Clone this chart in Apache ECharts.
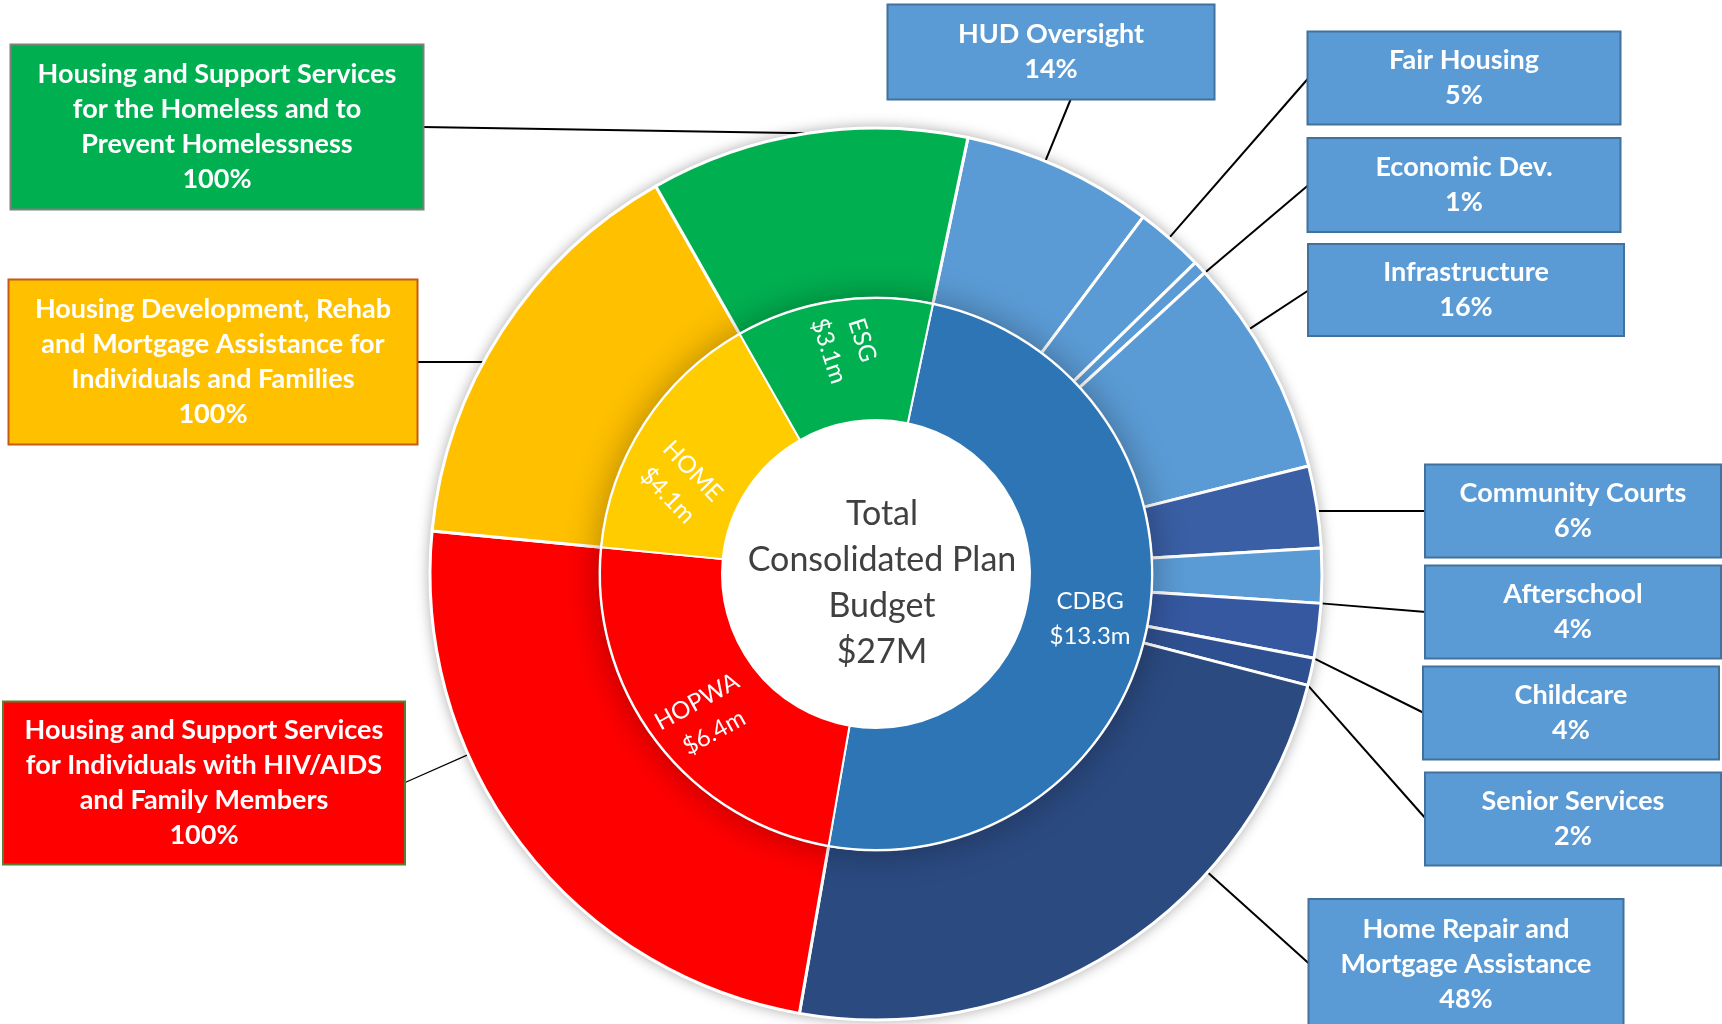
<!DOCTYPE html>
<html lang="en">
<head>
<meta charset="UTF-8">
<title>Total Consolidated Plan Budget</title>
<script src="https://cdn.jsdelivr.net/npm/echarts@6/dist/echarts.min.js"></script>
<style>
  html, body { margin: 0; padding: 0; background: #fff; }
  #chart { width: 1722px; height: 1024px; }
</style>
</head>
<body>
<div id="chart"></div>
<script>
// inner ring: programs, $ millions
const programs = ['CDBG', 'HOPWA', 'HOME', 'ESG'];
const programAmounts = [13.3, 6.4, 4.1, 3.1];

// outer ring: CDBG split, % of CDBG
const cdbgActivities = ['HUD Oversight', 'Fair Housing', 'Economic Dev.', 'Infrastructure',
  'Community Courts', 'Afterschool', 'Childcare', 'Senior Services',
  'Home Repair and\nMortgage Assistance'];
const cdbgShares = [14, 5, 1, 16, 6, 4, 4, 2, 48];

// outer ring: the other programs (HOPWA, HOME, ESG), % of program
const otherActivities = [
  'Housing and Support Services\nfor Individuals with HIV/AIDS\nand Family Members',
  'Housing Development, Rehab\nand Mortgage Assistance for\nIndividuals and Families',
  'Housing and Support Services\nfor the Homeless and to\nPrevent Homelessness'];
const otherShares = [100, 100, 100];

// ---- styles / layout ----
const center = [876, 574];
const startAngle = 78.1;
const innerColors = ['#2E75B6', '#FF0000', '#FFCC00', '#00B050'];
// label rotation (deg) and screen offset of the inner ring labels
const innerLabelStyle = [
  { rotate: 0, dx: 0, dy: 4 },
  { rotate: 29, dx: 3, dy: 11 },
  { rotate: -46, dx: -13, dy: 28 },
  { rotate: -72, dx: 3, dy: -13 }
];
const cdbgColors = ['#5B9BD5', '#5B9BD5', '#5B9BD5', '#5B9BD5', '#3A5FA5', '#5B9BD5', '#3558A0', '#2F5090', '#2B4A80'];
const otherColors = ['#FF0000', '#FFC000', '#00B050'];
const otherBoxBorders = ['#548235', '#C55A11', '#7F7F7F'];
// callout boxes, same order as the outer ring
// side = where the leader line meets the box; to = how it meets the ring (nearest / mid / level)
const boxes = [
  { cx: 1051, cy: 52, w: 325, h: 93, side: 'bottom', shift: 20 },
  { cx: 1464, cy: 78, w: 311, h: 91, side: 'left' },
  { cx: 1464, cy: 185, w: 311, h: 92, side: 'left' },
  { cx: 1466, cy: 290, w: 314, h: 90, side: 'left' },
  { cx: 1573, cy: 511, w: 294, h: 91, side: 'left', to: 'level' },
  { cx: 1573, cy: 612, w: 294, h: 91, side: 'left' },
  { cx: 1571, cy: 713, w: 294, h: 91, side: 'left' },
  { cx: 1573, cy: 819, w: 294, h: 91, side: 'left' },
  { cx: 1466, cy: 964, w: 313, h: 128, side: 'left' },
  { cx: 204, cy: 783, w: 400, h: 161, side: 'right', line: 1.2 },
  { cx: 213, cy: 362, w: 407, h: 163, side: 'right', to: 'level' },
  { cx: 217, cy: 127, w: 411, h: 163, side: 'right', to: 'mid' }
];

const total = programAmounts.reduce((a, b) => a + b, 0);
const outerNames = cdbgActivities.concat(otherActivities);
const outerShares = cdbgShares.concat(otherShares);
const outerValues = cdbgShares.map(s => programAmounts[0] * s / 100).concat(programAmounts.slice(1));

const outerData = outerNames.map((n, i) => {
  const isCdbg = i < cdbgActivities.length;
  const k = i - cdbgActivities.length;
  return {
    name: n,
    value: outerValues[i],
    itemStyle: { color: isCdbg ? cdbgColors[i] : otherColors[k] },
    label: {
      backgroundColor: isCdbg ? '#5B9BD5' : otherColors[k],
      borderColor: isCdbg ? '#41719C' : otherBoxBorders[k]
    },
    labelLine: { lineStyle: { width: boxes[i].line || 2 } }
  };
});

const innerData = programs.map((p, i) => ({
  name: p,
  value: programAmounts[i],
  itemStyle: { color: innerColors[i] },
  label: { rotate: innerLabelStyle[i].rotate }
}));

const chart = echarts.init(document.getElementById('chart'));

// where a leader line starts on the sector's outer arc
function arcAnchor(lay, px, py, mode) {
  const s = Math.min(lay.startAngle, lay.endAngle);
  const e = Math.max(lay.startAngle, lay.endAngle);
  let a;
  if (mode === 'mid') {
    a = (s + e) / 2;
  } else {
    if (mode === 'level') {
      // same height as the box point, on the box's side of the ring
      const dy = Math.max(-lay.r, Math.min(lay.r, py - lay.cy));
      const dx = Math.sqrt(lay.r * lay.r - dy * dy) * (px < lay.cx ? -1 : 1);
      a = Math.atan2(dy, dx);
    } else {
      a = Math.atan2(py - lay.cy, px - lay.cx);
    }
    while (a < s) a += 2 * Math.PI;
    while (a >= s + 2 * Math.PI) a -= 2 * Math.PI;
    if (a > e) a = (a - e < s + 2 * Math.PI - a) ? e : s;
  }
  return [lay.cx + lay.r * Math.cos(a), lay.cy + lay.r * Math.sin(a)];
}

chart.setOption({
  animation: false,
  backgroundColor: '#fff',
  series: [
    {
      // drop shadow under the whole donut
      type: 'pie', silent: true, center: center, radius: [0, 447],
      label: { show: false }, labelLine: { show: false },
      itemStyle: { color: '#fff', shadowBlur: 14, shadowColor: 'rgba(0,0,0,0.35)' },
      data: [{ name: '', value: total }]
    },
    {
      type: 'pie', center: center, radius: [276, 446], startAngle: startAngle,
      avoidLabelOverlap: false,
      itemStyle: { borderColor: '#fff', borderWidth: 3 },
      label: {
        show: true, position: 'outside', overflow: 'none',
        color: '#fff', fontFamily: 'Lato', fontWeight: 'bold', fontSize: 27, lineHeight: 35,
        borderWidth: 2, padding: 0,
        formatter: p => p.name + '\n' + outerShares[p.dataIndex] + '%'
      },
      labelLine: { show: true, length: 10, length2: 0, lineStyle: { color: '#000', width: 2 } },
      labelLayout: function (params) {
        const b = boxes[params.dataIndex];
        const res = { x: b.cx, y: b.cy, align: 'center', verticalAlign: 'middle', width: b.w, height: b.h };
        let bx = b.cx, by = b.cy;
        if (b.side === 'left') bx = b.cx - b.w / 2;
        else if (b.side === 'right') bx = b.cx + b.w / 2;
        else { by = b.cy + b.h / 2; bx = b.cx + (b.shift || 0); }
        const lay = chart.getModel().getSeriesByIndex(params.seriesIndex).getData().getItemLayout(params.dataIndex);
        if (lay) {
          res.labelLinePoints = [arcAnchor(lay, bx, by, b.to), [bx, by]];
        }
        return res;
      },
      data: outerData
    },
    {
      // shadow of the inner ring + centre caption
      type: 'pie', silent: true, center: center, radius: [0, 277],
      itemStyle: { color: '#fff', shadowBlur: 36, shadowColor: 'rgba(0,0,0,0.32)' },
      labelLine: { show: false },
      label: {
        show: true, position: 'center',
        fontFamily: 'Lato', fontSize: 34, lineHeight: 46, color: '#404040',
        formatter: () => 'Total\nConsolidated Plan\nBudget\n$' + Math.round(total) + 'M'
      },
      labelLayout: { dx: 6, dy: 9 },
      data: [{ name: 'Total', value: total }]
    },
    {
      type: 'pie', center: center, radius: [154, 276], startAngle: startAngle,
      avoidLabelOverlap: false,
      itemStyle: { borderColor: '#fff', borderWidth: 2 },
      label: {
        show: true, position: 'inside',
        color: '#fff', fontFamily: 'Lato', fontSize: 24, lineHeight: 35,
        formatter: p => p.name + '\n$' + p.value.toFixed(1) + 'm'
      },
      labelLine: { show: false },
      labelLayout: function (params) {
        // the offset is applied in the label's rotated frame, so turn the screen offset back
        const s = innerLabelStyle[params.dataIndex];
        const t = s.rotate * Math.PI / 180;
        return {
          dx: s.dx * Math.cos(t) - s.dy * Math.sin(t),
          dy: s.dx * Math.sin(t) + s.dy * Math.cos(t)
        };
      },
      data: innerData
    }
  ]
});
</script>
</body>
</html>
